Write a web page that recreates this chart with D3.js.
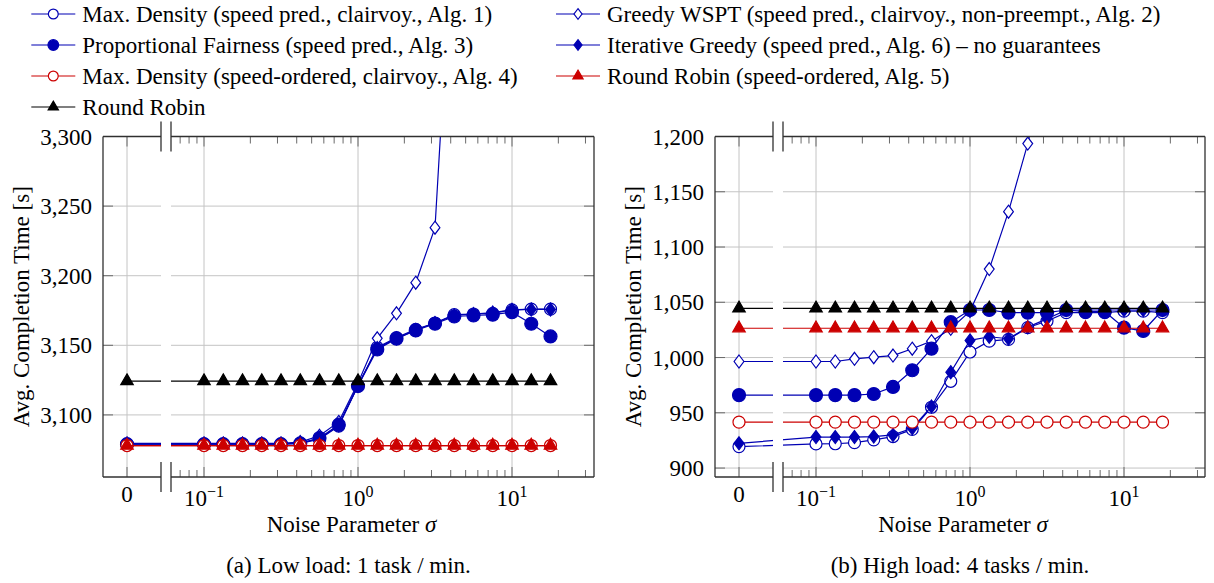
<!DOCTYPE html>
<html><head><meta charset="utf-8">
<script src="https://cdn.jsdelivr.net/npm/d3@7"></script>
<style>
body{margin:0;background:#fff}
text{font-family:"Liberation Serif","Times New Roman",serif;fill:#000}
</style>
</head><body>
<svg id="chart" width="1214" height="583"></svg>
<script>
// ---------- DATA ----------
const sigma = [0, 0.1, 0.1334, 0.1778, 0.2371, 0.3162, 0.4217, 0.5623, 0.7499, 1, 1.3335, 1.7783, 2.3714, 3.1623, 4.2170, 5.6234, 7.4989, 10, 13.3352, 17.7828];

const seriesNames = [
  "Max. Density (speed pred., clairvoy., Alg. 1)",
  "Greedy WSPT (speed pred., clairvoy., non-preempt., Alg. 2)",
  "Proportional Fairness (speed pred., Alg. 3)",
  "Iterative Greedy (speed pred., Alg. 6) \u2013 no guarantees",
  "Max. Density (speed-ordered, clairvoy., Alg. 4)",
  "Round Robin (speed-ordered, Alg. 5)",
  "Round Robin"
];

// (a) Low load
const lowMaxDensity   = [3079, 3079, 3079, 3079, 3079, 3079, 3079.5, 3082.5, 3092, 3121, 3148.5, 3155.5, 3161.5, 3166, 3172, 3172.5, 3173, 3175.5, 3176, 3176];
const lowGreedyWSPT   = [3079.5, 3079.5, 3079.5, 3079.5, 3079.5, 3079.5, 3080.5, 3085, 3095, 3123, 3155, 3173, 3195, 3234.5, 3470, null, null, null, null, null];
const lowPropFair     = [3079, 3079, 3079, 3079, 3079, 3079, 3079.5, 3083.4, 3093, 3120.7, 3147, 3154.8, 3160.7, 3165.5, 3170.7, 3171.4, 3172, 3173.8, 3165.5, 3156.4];
const lowIterGreedy   = [3079.3, 3079.3, 3079.3, 3079.3, 3079.3, 3079.3, 3080, 3083, 3092.5, 3121.5, 3148, 3155, 3161, 3166, 3171.5, 3172.5, 3173.5, 3175.5, 3175.8, 3175.8];
const lowMaxDensitySO = [3078, 3078, 3078, 3078, 3078, 3078, 3078, 3078, 3078, 3078, 3078, 3078, 3078, 3078, 3078, 3078, 3078, 3078, 3078, 3078];
const lowRoundRobinSO = [3078, 3078, 3078, 3078, 3078, 3078, 3078, 3078, 3078, 3078, 3078, 3078, 3078, 3078, 3078, 3078, 3078, 3078, 3078, 3078];
const lowRoundRobin   = [3124.3, 3124.3, 3124.3, 3124.3, 3124.3, 3124.3, 3124.3, 3124.3, 3124.3, 3124.3, 3124.3, 3124.3, 3124.3, 3124.3, 3124.3, 3124.3, 3124.3, 3124.3, 3124.3, 3124.3];
const lowYTicks = [3100, 3150, 3200, 3250, 3300];

// (b) High load
const highMaxDensity   = [919.4, 921.8, 922, 923, 925.5, 928.5, 935, 955, 978.5, 1005, 1014.8, 1016.4, 1027, 1033, 1040.6, 1040.6, 1040.6, 1042, 1042, 1040.6];
const highGreedyWSPT   = [996.4, 996.4, 996.4, 998.8, 1000.3, 1001.8, 1008, 1014.8, 1026, 1042, 1080, 1132, 1193.6, 1270, null, null, null, null, null, null];
const highPropFair     = [966, 966, 966, 966, 967, 973.4, 988.5, 1008, 1032, 1043, 1043, 1040.6, 1040.6, 1040.6, 1043, 1041.5, 1041.5, 1027, 1024, 1043];
const highIterGreedy   = [922.4, 928, 928, 928, 928.5, 930, 936, 955.7, 986.7, 1015.5, 1018.8, 1017, 1027.5, 1035, 1043, 1043, 1043, 1043, 1043, 1043];
const highMaxDensitySO = [941.5, 941.5, 941.5, 941.5, 941.5, 941.5, 941.5, 941.5, 941.5, 941.5, 941.5, 941.5, 941.5, 941.5, 941.5, 941.5, 941.5, 941.5, 941.5, 941.5];
const highRoundRobinSO = [1026.5, 1026.5, 1026.5, 1026.5, 1026.5, 1026.5, 1026.5, 1026.5, 1026.5, 1026.5, 1026.5, 1026.5, 1026.5, 1026.5, 1026.5, 1026.5, 1026.5, 1026.5, 1026.5, 1026.5];
const highRoundRobin   = [1044.5, 1044.5, 1044.5, 1044.5, 1044.5, 1044.5, 1044.5, 1044.5, 1044.5, 1044.5, 1044.5, 1044.5, 1044.5, 1044.5, 1044.5, 1044.5, 1044.5, 1044.5, 1044.5, 1044.5];
const highYTicks = [900, 950, 1000, 1050, 1100, 1150, 1200];

const xMajorTicks = [0.1, 1, 10];
const xTickExp = ["\u22121", "0", "1"];

// ---------- STYLES ----------
const BLUE = "#0000b3", RED = "#cc0000", BLACK = "#000000";
const styles = [
  {color: BLUE,  mark: "circle",   filled: false},
  {color: BLUE,  mark: "diamond",  filled: false},
  {color: BLUE,  mark: "circle",   filled: true},
  {color: BLUE,  mark: "diamond",  filled: true},
  {color: RED,   mark: "circle",   filled: false},
  {color: RED,   mark: "triangle", filled: true},
  {color: BLACK, mark: "triangle", filled: true}
];

function markPath(type, filled, k) {
  k = k || 1;
  if (type === "circle") {
    const r = (filled ? 6.5 : 6) * k;
    return `M${r},0A${r},${r} 0 1,1 ${-r},0A${r},${r} 0 1,1 ${r},0Z`;
  }
  if (type === "diamond") {
    const h = 6.5 * k, w = 4.9 * k;
    return `M0,${-h}L${w},0L0,${h}L${-w},0Z`;
  }
  const s = 12.5 * k, R = s / Math.sqrt(3);
  return `M0,${-R}L${s/2},${R/2}L${-s/2},${R/2}Z`;
}

const svg = d3.select("#chart");
const TOP = 136.5, BOTTOM = 477;
const FONT = 23;

function panel(id, fl, width, yDomain, yTicks, data, caption) {
  const right = fl + width;
  const x0 = fl + 24, bL = fl + 58, bR = fl + 68;
  const xLog = d3.scaleLog().domain([0.1, 10]).range([fl + 101, fl + 409]);
  const xp = s => s === 0 ? x0 : xLog(s);
  const y = d3.scaleLinear().domain(yDomain).range([BOTTOM, TOP]);
  const g = svg.append("g");

  const cp = svg.append("defs").append("clipPath").attr("id", "clip" + id);
  cp.append("rect").attr("x", fl).attr("y", TOP).attr("width", bL - fl).attr("height", BOTTOM - TOP);
  cp.append("rect").attr("x", bR).attr("y", TOP).attr("width", right - bR).attr("height", BOTTOM - TOP);

  // grid
  const grid = g.append("g").attr("clip-path", `url(#clip${id})`).attr("stroke", "#c4c4c4").attr("stroke-width", 1);
  grid.selectAll(".hg").data(yTicks).join("line")
    .attr("x1", fl).attr("x2", right).attr("y1", d => y(d)).attr("y2", d => y(d));
  grid.selectAll(".vg").data([0].concat(xMajorTicks)).join("line")
    .attr("x1", d => xp(d)).attr("x2", d => xp(d)).attr("y1", TOP).attr("y2", BOTTOM);

  // ticks
  const tk = g.append("g").attr("stroke", "#6a6a6a").attr("stroke-width", 1);
  yTicks.forEach(t => {
    tk.append("line").attr("x1", fl).attr("x2", fl + 10).attr("y1", y(t)).attr("y2", y(t));
    tk.append("line").attr("x1", right - 10).attr("x2", right).attr("y1", y(t)).attr("y2", y(t));
  });
  const lo = xLog.invert(bR), hi = xLog.invert(right);
  const minor = [];
  for (let e = -2; e <= 1; e++) for (let m = 2; m <= 9; m++) {
    const v = m * Math.pow(10, e);
    if (v > lo && v < hi) minor.push(v);
  }
  minor.forEach(v => {
    tk.append("line").attr("x1", xLog(v)).attr("x2", xLog(v)).attr("y1", BOTTOM).attr("y2", BOTTOM - 7);
    tk.append("line").attr("x1", xLog(v)).attr("x2", xLog(v)).attr("y1", TOP).attr("y2", TOP + 7);
  });
  [0].concat(xMajorTicks).forEach(v => {
    tk.append("line").attr("x1", xp(v)).attr("x2", xp(v)).attr("y1", BOTTOM).attr("y2", BOTTOM - 10);
    tk.append("line").attr("x1", xp(v)).attr("x2", xp(v)).attr("y1", TOP).attr("y2", TOP + 10);
  });

  // data
  const plot = g.append("g").attr("clip-path", `url(#clip${id})`);
  data.forEach((vals, i) => {
    const st = styles[i];
    const pts = vals.map((v, j) => ({s: sigma[j], v}));
    const line = d3.line().defined(d => d.v != null).x(d => xp(d.s)).y(d => y(d.v));
    plot.append("path").attr("d", line(pts)).attr("fill", "none")
      .attr("stroke", st.color).attr("stroke-width", 1.2);
    plot.selectAll(null).data(pts.filter(d => d.v != null)).join("path")
      .attr("transform", d => `translate(${xp(d.s)},${y(d.v)})`)
      .attr("d", markPath(st.mark, st.filled))
      .attr("fill", st.filled ? st.color : "#fff")
      .attr("stroke", st.color).attr("stroke-width", 1.2);
  });

  // frame
  const fr = g.append("g").attr("stroke", "#303030").attr("stroke-width", 1.3).attr("fill", "none");
  fr.append("line").attr("x1", fl).attr("x2", fl).attr("y1", TOP).attr("y2", BOTTOM);
  fr.append("line").attr("x1", right).attr("x2", right).attr("y1", TOP).attr("y2", BOTTOM);
  [TOP, BOTTOM].forEach(yy => {
    fr.append("line").attr("x1", fl).attr("x2", bL).attr("y1", yy).attr("y2", yy);
    fr.append("line").attr("x1", bR).attr("x2", right).attr("y1", yy).attr("y2", yy);
    [bL, bR].forEach(bx => fr.append("line").attr("x1", bx).attr("x2", bx).attr("y1", yy - 15).attr("y2", yy + 15));
  });

  // y tick labels
  const fmt = d3.format(",");
  g.selectAll(".yl").data(yTicks).join("text")
    .attr("x", fl - 11).attr("y", d => y(d) + 8)
    .attr("text-anchor", "end").attr("font-size", FONT).text(d => fmt(d));

  // x tick labels
  g.append("text").attr("x", x0).attr("y", 502).attr("text-anchor", "middle").attr("font-size", FONT).text("0");
  xMajorTicks.forEach((v, i) => {
    const t = g.append("text").attr("x", xLog(v)).attr("y", 506).attr("text-anchor", "middle").attr("font-size", FONT);
    t.append("tspan").text("10");
    t.append("tspan").attr("dy", -9).attr("font-size", 16).text(xTickExp[i]);
  });

  // axis labels
  const cx = (fl + right) / 2;
  const xl = g.append("text").attr("x", cx + 3).attr("y", 532).attr("text-anchor", "middle").attr("font-size", FONT);
  xl.append("tspan").text("Noise Parameter ");
  xl.append("tspan").attr("font-style", "italic").text("\u03c3");
  g.append("text").attr("transform", `translate(${fl - 74},${(TOP + BOTTOM) / 2}) rotate(-90)`)
    .attr("text-anchor", "middle").attr("font-size", FONT).text("Avg. Completion Time [s]");
  g.append("text").attr("x", cx).attr("y", 573).attr("text-anchor", "middle").attr("font-size", FONT).text(caption);
}

panel("a", 103, 491, [3055.4, 3300], lowYTicks,
  [lowMaxDensity, lowGreedyWSPT, lowPropFair, lowIterGreedy, lowMaxDensitySO, lowRoundRobinSO, lowRoundRobin],
  "(a) Low load: 1 task / min.");
panel("b", 715, 490, [891.9, 1200], highYTicks,
  [highMaxDensity, highGreedyWSPT, highPropFair, highIterGreedy, highMaxDensitySO, highRoundRobinSO, highRoundRobin],
  "(b) High load: 4 tasks / min.");

// legend
const leg = svg.append("g");
const colX = [53.3, 578];
const rowY = [14, 45, 76, 107];
seriesNames.forEach((name, i) => {
  const st = styles[i];
  const cx = colX[i % 2], cy = rowY[Math.floor(i / 2)];
  leg.append("line").attr("x1", cx - 22).attr("x2", cx + 22).attr("y1", cy).attr("y2", cy)
    .attr("stroke", st.color).attr("stroke-width", 1.2);
  leg.append("path").attr("transform", `translate(${cx},${cy})`)
    .attr("d", markPath(st.mark, st.filled, 0.82))
    .attr("fill", st.filled ? st.color : "#fff").attr("stroke", st.color).attr("stroke-width", 1.2);
  leg.append("text").attr("x", cx + 29).attr("y", cy + 7.5).attr("font-size", FONT).text(name);
});
</script>
</body></html>
